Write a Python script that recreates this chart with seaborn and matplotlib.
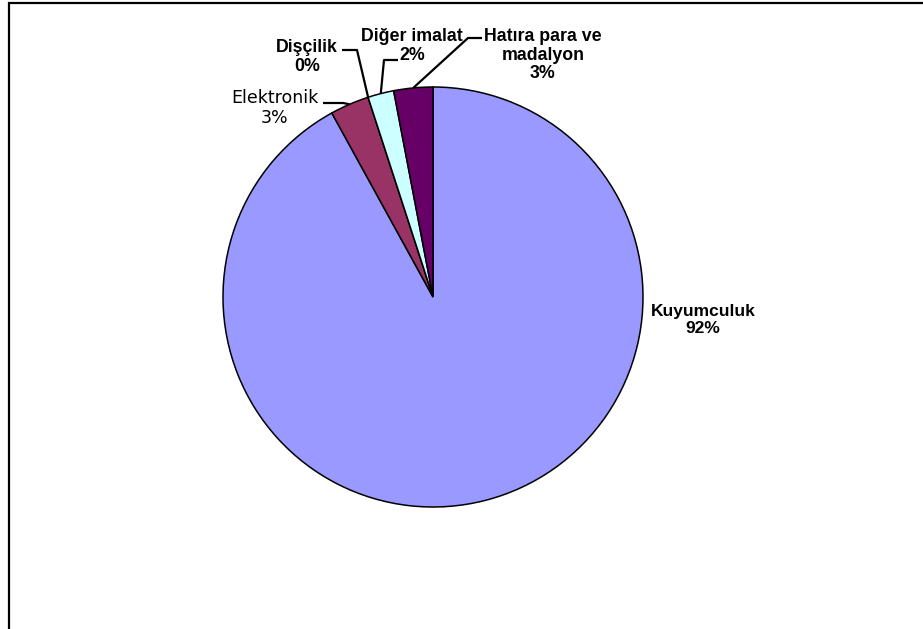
import matplotlib
matplotlib.use("Agg")
import matplotlib.pyplot as plt
from matplotlib.patches import Rectangle
import numpy as np
import seaborn as sns

# Gold usage by sector (%)
sectors = ["Kuyumculuk", "Elektronik", "Dişçilik", "Diğer imalat", "Hatıra para ve\nmadalyon"]
shares = [92, 3, 0, 2, 3]
colors = ["#9999FF", "#993366", "#FFFFCC", "#CCFFFF", "#660066"]

sns.set_theme(style="white")
plt.rcParams["font.family"] = ["Liberation Sans", "DejaVu Sans"]

W, H = 923, 629
fig = plt.figure(figsize=(W / 100, H / 100), dpi=100)
ax = fig.add_axes([0, 0, 1, 1])

cx, cy, r = 433, H - 297, 210
palette = sns.color_palette(colors)
wedges, _ = ax.pie(shares, colors=palette, startangle=90, counterclock=False,
                   center=(cx, cy), radius=r, frame=True,
                   wedgeprops=dict(edgecolor="black", linewidth=1.1))
ax.set_xlim(0, W)
ax.set_ylim(0, H)
ax.set_aspect("equal")
ax.axis("off")


def edge_point(w):
    ang = np.deg2rad((w.theta1 + w.theta2) / 2)
    return cx + r * np.cos(ang), cy + r * np.sin(ang)


# label centre, font style, leader start points
layout = [
    dict(xy=(703, 320), weight="bold", family=None, size=12.5, path=None),
    dict(xy=(275, 108), weight="normal", family=["DejaVu Sans"], size=12.5,
         path=[(323, 103), (343, 103)]),
    dict(xy=(307, 57), weight="bold", family=None, size=12.8,
         path=[(342, 50), (357, 50)]),
    dict(xy=(412, 46), weight="bold", family=None, size=12.8,
         path=[(398, 60), (384, 60)]),
    dict(xy=(543, 55), weight="bold", family=None, size=12.8,
         path=[(482, 38), (468, 38)]),
]

for name, val, w, lay in zip(sectors, shares, wedges, layout):
    tx, ty = lay["xy"]
    kw = {}
    if lay["family"]:
        kw["family"] = lay["family"]
    ax.text(tx, H - ty, f"{name}\n{val}%", ha="center", va="center",
            fontsize=lay["size"], linespacing=1.1,
            fontweight=lay["weight"], color="black", **kw)
    if lay["path"]:
        pts = [(px, H - py) for px, py in lay["path"]] + [edge_point(w)]
        xs, ys = zip(*pts)
        ax.plot(xs, ys, color="black", linewidth=1.6, solid_capstyle="butt")

# chart frame
ax.add_patch(Rectangle((9, -20), W + 20, H + 20 - 2.5, fill=False,
                       edgecolor="black", linewidth=1.6, clip_on=False))

fig.savefig("out.png", dpi=100, facecolor="white")
